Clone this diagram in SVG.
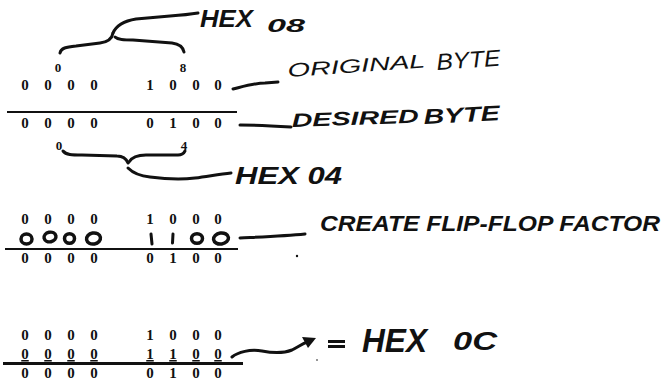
<svg xmlns="http://www.w3.org/2000/svg" width="667" height="383" viewBox="0 0 667 383">
  <style>
    .ty { font-family: "Liberation Serif", "Times New Roman", serif; font-size: 15px; font-weight: bold; fill: #111; text-anchor: middle; }
    .lb { font-size: 13px; }
    .hw { font-family: "Liberation Sans", Arial, sans-serif; font-style: italic; font-weight: bold; fill: #111; }
    .thin { font-weight: normal; }
    .pen { fill: none; stroke: #111; stroke-width: 3; stroke-linecap: round; stroke-linejoin: round; }
    .oval { fill: none; stroke: #111; stroke-width: 3.5; }
    .rule { stroke: #111; stroke-width: 2.2; }
  </style>
  <rect width="667" height="383" fill="#fff"/>

  <!-- Step 1: original byte and its hex value -->
  <g id="original">
    <path class="pen" d="M60,53 C61,48 66,47 76,46 L100,43 C108,42 112,39 113,33"/>
    <path class="pen" d="M115,37 C118,40 124,40 133,40 L172,43 C180,44 183,47 184,52"/>
    <path class="pen" d="M113,33 C116,26 124,21 136,19 L170,16 C184,15 192,14 198,13"/>
    <text class="hw" x="200" y="27" font-size="24" textLength="53" lengthAdjust="spacingAndGlyphs">HEX</text>
    <text class="hw" x="267" y="32" font-size="18" textLength="38" lengthAdjust="spacingAndGlyphs">08</text>
    <text class="ty lb" x="58 183" y="72">08</text>
    <text class="ty" x="25 48 71 94 150 173 196 218" y="90">00001000</text>
    <path class="pen" d="M233,89 C245,86 255,83 265,83 L278,82"/>
    <text class="hw thin" transform="rotate(-4 288 77)" x="288" y="77" font-size="19" textLength="138" lengthAdjust="spacingAndGlyphs">ORIGINAL</text>
    <text class="hw thin" transform="rotate(-4 437 70)" x="437" y="70" font-size="23" textLength="64" lengthAdjust="spacingAndGlyphs">BYTE</text>
  </g>

  <!-- Step 2: desired byte and its hex value -->
  <g id="desired">
    <line class="rule" x1="7" y1="112" x2="237" y2="112"/>
    <text class="ty" x="25 48 71 94 150 173 196 218" y="128">00000100</text>
    <path class="pen" d="M240,125 C255,125 275,126 291,127"/>
    <text class="hw" transform="rotate(-2 292 127)" x="292" y="127" font-size="19" textLength="127" lengthAdjust="spacingAndGlyphs">DESIRED</text>
    <text class="hw" transform="rotate(-3 424 124)" x="424" y="124" font-size="21" textLength="76" lengthAdjust="spacingAndGlyphs">BYTE</text>
    <text class="ty lb" x="59 184" y="150">04</text>
    <path class="pen" d="M63,151 C66,155 72,155 82,155 L117,156 C123,156 126,158 128,163"/>
    <path class="pen" d="M129,162 C132,157 137,155 146,155 L178,155 C182,155 184,153 185,151"/>
    <path class="pen" d="M128,168 C132,172 140,176 150,177 C165,179 180,180 195,178 C210,176 220,174 231,173"/>
    <text class="hw" x="235" y="184" font-size="23" textLength="107" lengthAdjust="spacingAndGlyphs">HEX 04</text>
  </g>

  <!-- Step 3: flip-flop factor -->
  <g id="factor">
    <text class="ty" x="25 48 71 94 150 173 196 218" y="224">00001000</text>
    <ellipse class="oval" cx="26.5" cy="239" rx="5.5" ry="5"/>
    <ellipse class="oval" cx="50" cy="237" rx="6" ry="4.8" transform="rotate(-12 50 237)"/>
    <ellipse class="oval" cx="69.5" cy="238.5" rx="5" ry="4.8"/>
    <ellipse class="oval" cx="93.5" cy="238.5" rx="7" ry="5.5" transform="rotate(-10 93.5 238.5)"/>
    <path class="pen" d="M151,234 L152,244" stroke-width="4"/>
    <path class="pen" d="M173,234 L172.5,243" stroke-width="3"/>
    <ellipse class="oval" cx="197" cy="238.5" rx="5.5" ry="4.8"/>
    <ellipse class="oval" cx="221" cy="238.5" rx="7.5" ry="5.5" transform="rotate(-8 221 238.5)"/>
    <path class="pen" d="M240,238 C260,237 285,236 305,234"/>
    <text class="hw" x="320" y="231" font-size="22" textLength="340" lengthAdjust="spacingAndGlyphs">CREATE FLIP-FLOP FACTOR</text>
    <line class="rule" x1="5" y1="249" x2="238" y2="249"/>
    <text class="ty" x="25 48 71 94 150 173 196 218" y="263">00000100</text>
    <circle cx="297" cy="256" r="1.2" fill="#111"/>
  </g>

  <!-- Step 4: combined result -->
  <g id="result">
    <text class="ty" x="25 48 71 94 150 173 196 218" y="340">00001000</text>
    <text class="ty" x="25 48 71 94 150 173 196 218" y="359" text-decoration="underline">00001100</text>
    <line x1="3" y1="363.5" x2="243" y2="363.5" stroke="#111" stroke-width="3"/>
    <text class="ty" x="25 48 71 94 150 173 196 218" y="378">00000100</text>
    <path class="pen" d="M232,357 C238,352 250,349 262,351 C272,353 282,354 292,350 C298,347 302,344 307,342"/>
    <polygon points="316,338 302,337 308,348" fill="#111"/>
    <rect x="328" y="340" width="17" height="3" fill="#111"/>
    <rect x="328" y="345" width="17" height="3" fill="#111"/>
    <text class="hw" x="362" y="352" font-size="33" textLength="65" lengthAdjust="spacingAndGlyphs">HEX</text>
    <text class="hw" x="453" y="350" font-size="25" textLength="44" lengthAdjust="spacingAndGlyphs">0C</text>
    <circle cx="317" cy="360" r="0.8" fill="#111"/>
  </g>
</svg>
